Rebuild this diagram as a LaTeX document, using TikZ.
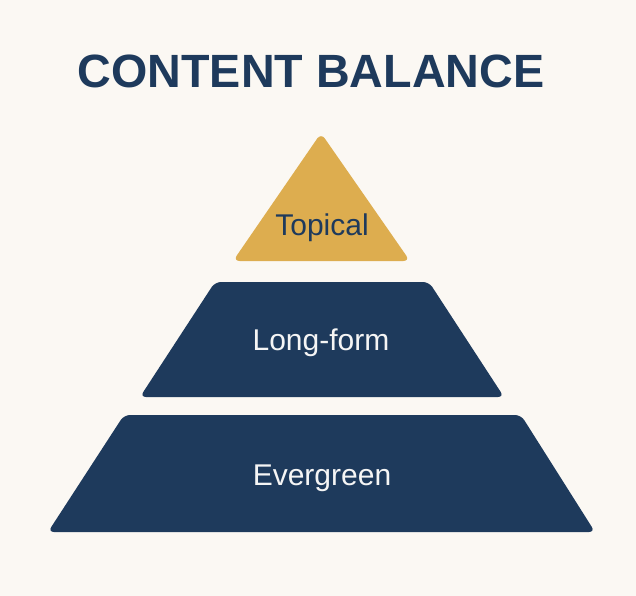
\documentclass[tikz,border=0pt]{standalone}
\usepackage{fontspec}
\setmainfont{Liberation Sans}
\usetikzlibrary{positioning}
\definecolor{colBack}{RGB}{251,248,243}
\definecolor{colNavy}{RGB}{30,58,92}
\definecolor{colGold}{RGB}{221,173,79}
\definecolor{colLight}{RGB}{245,245,245}
\tikzset{
  tier/.style={rounded corners=4.5pt, draw=none},
  topTier/.style={tier, fill=colGold},
  lowTier/.style={tier, fill=colNavy},
  tierLabel/.style={anchor=base, font=\fontsize{22.5}{26}\selectfont, inner sep=0pt},
  titleText/.style={anchor=base, font=\fontsize{35}{40}\selectfont\bfseries, text=colNavy, inner sep=0pt},
}

\begin{document}
\begin{tikzpicture}[x=0.75pt, y=-0.75pt]

% ---- Canvas ----------------------------------------------------
\fill[colBack] (0,0) rectangle (636,596);
\useasboundingbox (0,0) rectangle (636,596);

% ---- Title -----------------------------------------------------
\node[titleText] (title) at (311,87) {CONTENT BALANCE};

% ---- Tiers (top to bottom) -------------------------------------
\fill[topTier, rounded corners=5pt] (233,261) -- (321,133) -- (410,261) -- cycle;
\fill[lowTier] (140,397) -- (215,282) -- (429,282) -- (504,397) -- cycle;
\fill[lowTier] (48,532) -- (124,415) -- (521,415) -- (595,532) -- cycle;

% ---- Labels ----------------------------------------------------
\node[tierLabel, text=colNavy] (topical) at (322,235) {Topical};
\node[tierLabel, text=colLight] (longform) at (321,350) {Long-form};
\node[tierLabel, text=colLight] (evergreen) at (322,485) {Evergreen};

\end{tikzpicture}
\end{document}
